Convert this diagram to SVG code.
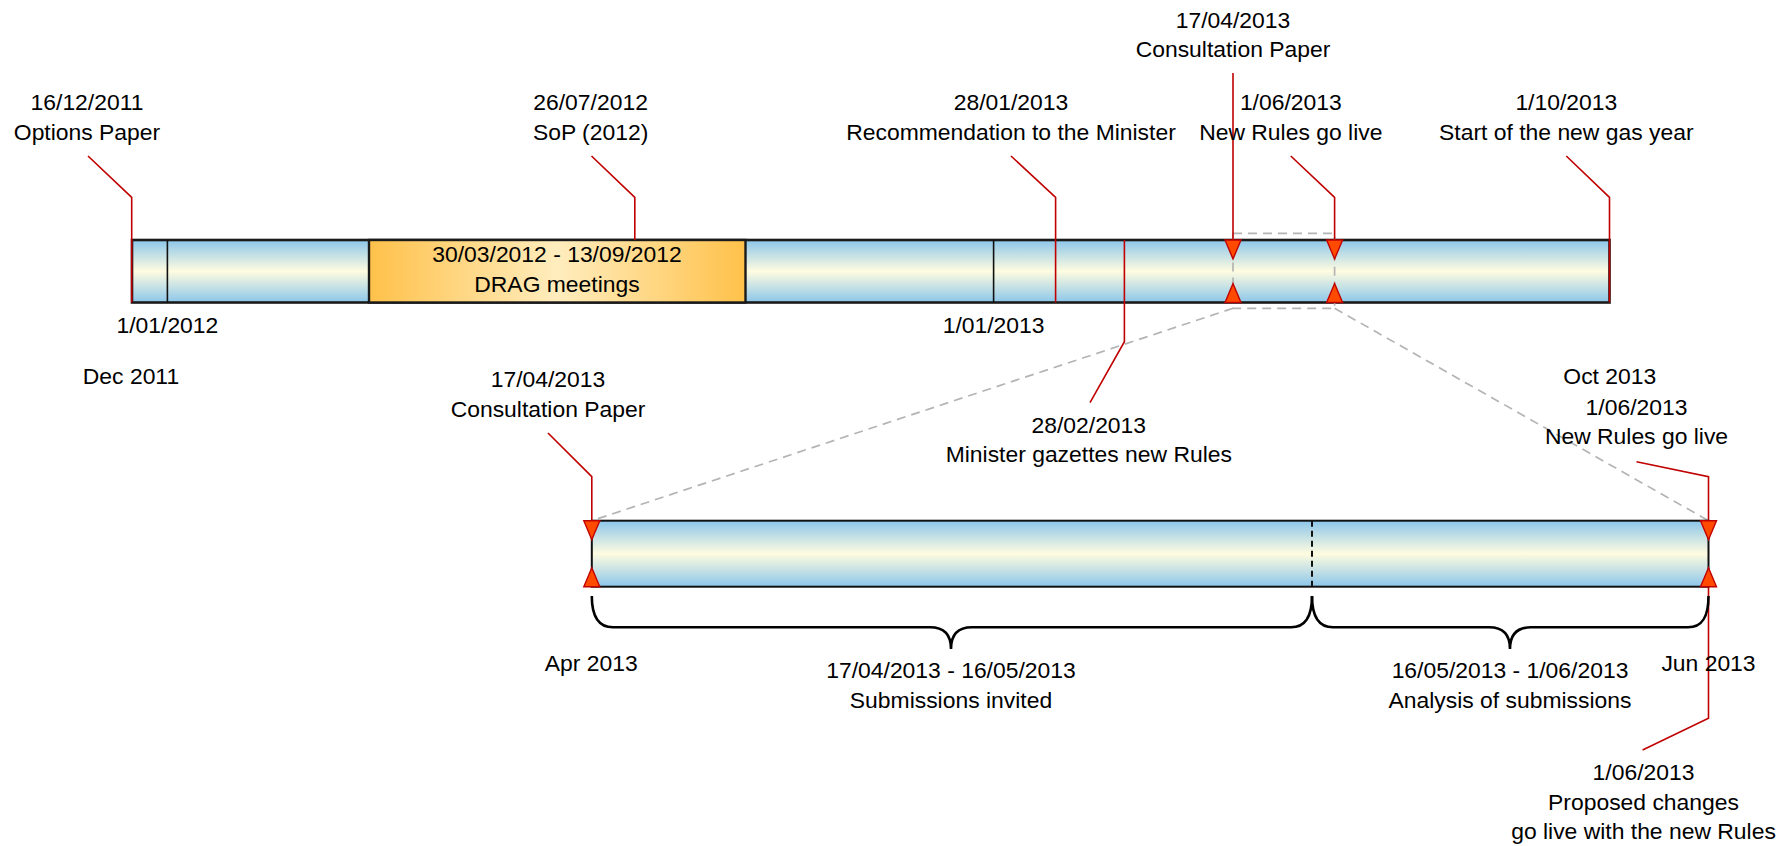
<svg xmlns="http://www.w3.org/2000/svg" width="1791" height="846" viewBox="0 0 1791 846">
<style>
text{font-family:"Liberation Sans",Arial,sans-serif;font-size:22.9px;fill:#000;text-anchor:middle}
.leader{stroke:#C00000;stroke-width:1.6;fill:none}
.zoom{stroke:#B4B4B4;stroke-width:1.7;fill:none;stroke-dasharray:9 6}
.div{stroke:#111;stroke-width:1.6}
.brace{stroke:#000;stroke-width:2.6;fill:none}
.tri{fill:#FF4A00;stroke:#C00000;stroke-width:1.4}
</style>
<defs>
<linearGradient id="blue" x1="0" y1="0" x2="0" y2="1">
<stop offset="0" stop-color="#8CC6EA"/>
<stop offset="0.5" stop-color="#FFFCE0"/>
<stop offset="1" stop-color="#8CC6EA"/>
</linearGradient>
<linearGradient id="orange" x1="0" y1="0" x2="1" y2="0">
<stop offset="0" stop-color="#FFC14A"/>
<stop offset="0.5" stop-color="#FFEDBE"/>
<stop offset="1" stop-color="#FFC14A"/>
</linearGradient>
<path id="tdn" d="M-8,0 L8,0 L0,19 Z"/>
<path id="tup" d="M-8,0 L8,0 L0,-19 Z"/>
</defs>

<g id="top-bar">
<rect x="132" y="240" width="1477.5" height="62.5" fill="url(#blue)" stroke="#1a1a1a" stroke-width="2.6"/>
<rect x="369" y="240" width="376.5" height="62.5" fill="url(#orange)" stroke="#1a1a1a" stroke-width="2.4"/>
<line class="div" x1="167.4" y1="240" x2="167.4" y2="302.5"/>
<line class="div" x1="993.6" y1="240" x2="993.6" y2="302.5"/>
<text x="557" y="262.3">30/03/2012 - 13/09/2012</text>
<text x="557" y="291.8">DRAG meetings</text>
<text x="167.4" y="332.7">1/01/2012</text>
<text x="993.6" y="332.7">1/01/2013</text>
<text x="131" y="384">Dec 2011</text>
<text x="1609.8" y="383.5">Oct 2013</text>
</g>

<g id="connectors">
<rect class="zoom" x="1233" y="233.3" width="101.6" height="75"/>
<line class="zoom" x1="1233" y1="308.3" x2="591.8" y2="520.7"/>
<line class="zoom" x1="1334.6" y1="308.3" x2="1708.5" y2="520.7"/>
<path class="leader" d="M88,156 L131.7,197.3 L131.7,302.5"/>
<path class="leader" d="M591.5,156 L634.8,197.3 L634.8,240"/>
<path class="leader" d="M1011,156 L1055.6,197.3 L1055.6,302.5"/>
<path class="leader" d="M1290.8,156 L1334.6,197.3 L1334.6,240"/>
<path class="leader" d="M1566.3,156 L1609.5,197.3 L1609.5,302.5"/>
<path class="leader" d="M1233,73 L1233,240"/>
<path class="leader" d="M1124.4,240 L1124.4,341.7 L1090,402.7"/>
<path class="leader" d="M548,433 L591.8,476.7 L591.8,520.7"/>
<path class="leader" d="M1636.5,461.7 L1708.5,476.7 L1708.5,520.7"/>
<path class="leader" d="M1708.5,586.7 L1708.5,718.3 L1642.6,750"/>
</g>

<g id="top-markers">
<use href="#tdn" class="tri" x="1233" y="240"/>
<use href="#tdn" class="tri" x="1334.6" y="240"/>
<use href="#tup" class="tri" x="1233" y="302.5"/>
<use href="#tup" class="tri" x="1334.6" y="302.5"/>
</g>

<g id="ev-options">
<text x="87" y="110">16/12/2011</text>
<text x="87" y="139.5">Options Paper</text>
</g>
<g id="ev-sop">
<text x="590.6" y="110">26/07/2012</text>
<text x="590.6" y="139.5">SoP (2012)</text>
</g>
<g id="ev-recommendation">
<text x="1011" y="110">28/01/2013</text>
<text x="1011" y="139.5">Recommendation to the Minister</text>
</g>
<g id="ev-consultation-top">
<text x="1233" y="27.5">17/04/2013</text>
<text x="1233" y="57">Consultation Paper</text>
</g>
<g id="ev-newrules-top">
<text x="1290.8" y="110">1/06/2013</text>
<text x="1290.8" y="139.5">New Rules go live</text>
</g>
<g id="ev-gasyear">
<text x="1566.3" y="110">1/10/2013</text>
<text x="1566.3" y="139.5">Start of the new gas year</text>
</g>
<g id="ev-gazette">
<text x="1088.8" y="432.5">28/02/2013</text>
<text x="1088.8" y="462">Minister gazettes new Rules</text>
</g>

<g id="lower-bar">
<rect x="591.8" y="520.7" width="1116.7" height="66" fill="url(#blue)" stroke="#111" stroke-width="2"/>
<line x1="1312" y1="520.7" x2="1312" y2="586.7" stroke="#111" stroke-width="2" stroke-dasharray="6 4"/>
<use href="#tdn" class="tri" x="591.8" y="520.7"/>
<use href="#tup" class="tri" x="591.8" y="586.7"/>
<use href="#tdn" class="tri" x="1708.5" y="520.7"/>
<use href="#tup" class="tri" x="1708.5" y="586.7"/>
<text x="591.3" y="670.7">Apr 2013</text>
<text x="1708.5" y="670.7">Jun 2013</text>
</g>

<g id="ev-consultation-lower">
<text x="548" y="387">17/04/2013</text>
<text x="548" y="416.7">Consultation Paper</text>
</g>
<g id="ev-newrules-lower">
<text x="1636.5" y="414.5">1/06/2013</text>
<text x="1636.5" y="444">New Rules go live</text>
</g>
<g id="ev-proposed">
<text x="1643.5" y="780">1/06/2013</text>
<text x="1643.5" y="809.5">Proposed changes</text>
<text x="1643.5" y="839">go live with the new Rules</text>
</g>

<g id="span-submissions">
<path class="brace" d="M591.8,596 C591.8,616 598,627.3 613,627.3 L930,627.3 C943,627.3 951,634 951,649 C951,634 959,627.3 972,627.3 L1291,627.3 C1306,627.3 1312,616 1312,596"/>
<text x="951" y="678.3">17/04/2013 - 16/05/2013</text>
<text x="951" y="708.3">Submissions invited</text>
</g>
<g id="span-analysis">
<path class="brace" d="M1312,596 C1312,616 1318,627.3 1333,627.3 L1489,627.3 C1502,627.3 1510,634 1510,649 C1510,634 1518,627.3 1531,627.3 L1688,627.3 C1703,627.3 1708.5,616 1708.5,596"/>
<text x="1510" y="678.3">16/05/2013 - 1/06/2013</text>
<text x="1510" y="708.3">Analysis of submissions</text>
</g>
</svg>
